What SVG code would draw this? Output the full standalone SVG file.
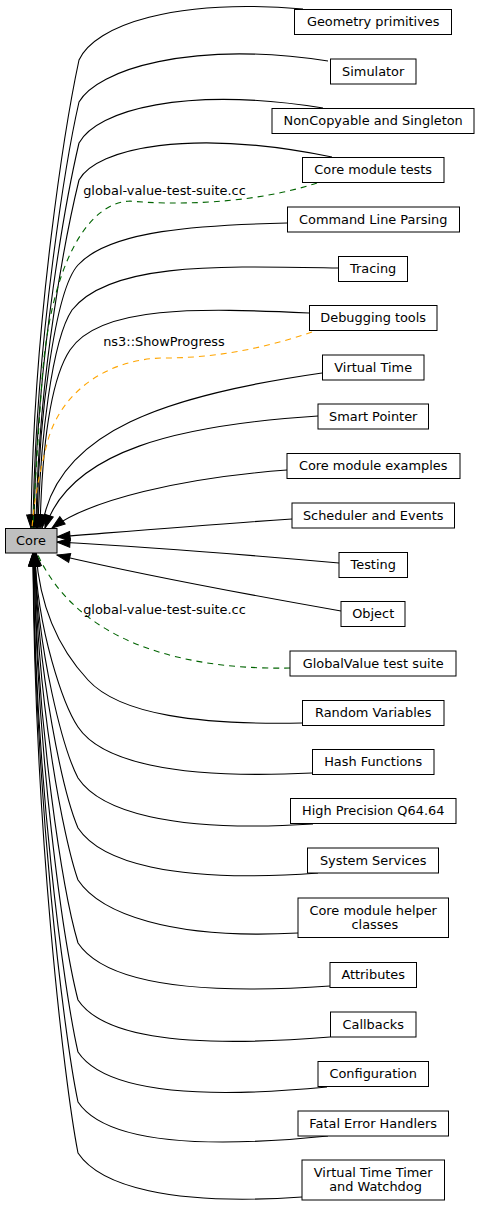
<svg xmlns="http://www.w3.org/2000/svg" width="480" height="1210" viewBox="0 0 480 1210">
<style>
.node rect{fill:#fff;stroke:#000;stroke-width:1}
#core rect{fill:#bfbfbf}
text{font-family:"DejaVu Sans","Noto Sans",sans-serif;font-size:12.9px;fill:#000;text-anchor:middle}
.e{fill:none;stroke:#000;stroke-width:1.1;marker-end:url(#ah)}
.d{fill:none;stroke-width:1.1;stroke-dasharray:6,5}
.g{stroke:#006400}
.o{stroke:#ffa500}
</style>
<defs>
<marker id="ah" markerUnits="userSpaceOnUse" markerWidth="13" markerHeight="9" refX="13" refY="4.5" orient="auto" overflow="visible">
<path d="M0,0 L13,4.5 L0,9 z" fill="#000" stroke="#000" stroke-width="1"/>
</marker>
</defs>
<g id="edges">
<path class="e" d="M303,9 C175,-2 95,25 79,60 C67,116 33,317 31,528"/>
<path class="e" d="M328,61 C190,40 97,70 79,102 C68,150 35,340 33,528"/>
<path class="e" d="M323,108 C185,86 97,110 79,143 C68,190 36,355 34,528"/>
<path class="e" d="M332,157 C190,128 97,148 79,180 C68,225 38,370 36,528"/>
<path class="e" d="M287,223 C200,225 110,230 78,265 C55,290 38,420 37,528"/>
<path class="e" d="M338,268 C220,266 110,262 72,310 C52,340 40,440 38,528"/>
<path class="e" d="M309,313 C200,308 100,305 70,350 C50,380 42,450 40,528"/>
<path class="e" d="M322,373 C170,395 55,430 42,528"/>
<path class="e" d="M318,416 C180,425 70,450 45,528"/>
<path class="e" d="M287,470 C180,478 90,500 52,528"/>
<path class="e" d="M292,519 C200,525 120,532 57,537"/>
<path class="e" d="M339,563 C250,555 130,546 57,542"/>
<path class="e" d="M341,611 C250,595 130,572 57,555"/>
<path class="e" d="M302,723 C200,725 120,715 88,680 C60,650 40,610 36,553"/>
<path class="e" d="M312,773 C170,780 100,760 78,727 C64,706 37,631 35,553"/>
<path class="e" d="M313,824 C170,833 100,811 78,778 C64,751 37,654 35,553"/>
<path class="e" d="M318,873 C170,884 100,861 78,828 C64,795 37,677 35,553"/>
<path class="e" d="M298,933 C170,940 100,913 78,880 C64,841 36,700 35,553"/>
<path class="e" d="M330,986 C170,997 100,976 78,943 C64,896 36,729 34,553"/>
<path class="e" d="M330,1037 C170,1050 100,1033 78,1000 C64,946 36,754 34,553"/>
<path class="e" d="M327,1087 C170,1102 100,1085 78,1052 C64,992 35,778 33,553"/>
<path class="e" d="M328,1136 C170,1152 100,1135 78,1102 C64,1036 35,800 33,553"/>
<path class="e" d="M302,1197 C170,1206 100,1186 78,1153 C64,1081 34,823 33,553"/>
<path class="d g" d="M317,183 C250,205 170,205 130,201 C85,203 50,270 42,380 C38,440 34,500 33,528"/>
<path class="d o" d="M312,332 C260,350 210,358 165,358 C110,358 62,390 48,440 C40,470 34,500 32,528"/>
<path class="d g" d="M290,668 C200,670 80,650 37,553"/>
<text x="164.5" y="194.8">global-value-test-suite.cc</text>
<text x="164" y="345.6">ns3::ShowProgress</text>
<text x="164.5" y="613.8">global-value-test-suite.cc</text>
</g>
<g id="core" class="node"><rect x="5.5" y="528.5" width="51.5" height="24.5"/><text x="31" y="544.5">Core</text></g>
<g id="n1" class="node"><rect x="294.5" y="9.5" width="157" height="25"/><text x="373.2" y="26.3">Geometry primitives</text></g>
<g id="n2" class="node"><rect x="330.5" y="59" width="85.5" height="25"/><text x="373.2" y="75.8">Simulator</text></g>
<g id="n3" class="node"><rect x="272" y="108.5" width="202" height="25"/><text x="373.2" y="125.3">NonCopyable and Singleton</text></g>
<g id="n4" class="node"><rect x="302.5" y="157.5" width="141.5" height="25"/><text x="373.2" y="174.3">Core module tests</text></g>
<g id="n5" class="node"><rect x="287.5" y="207" width="172" height="25"/><text x="373.2" y="223.8">Command Line Parsing</text></g>
<g id="n6" class="node"><rect x="338.5" y="256.5" width="69" height="25"/><text x="373.2" y="273.3">Tracing</text></g>
<g id="n7" class="node"><rect x="309.5" y="305.5" width="127.5" height="25"/><text x="373.2" y="322.3">Debugging tools</text></g>
<g id="n8" class="node"><rect x="322.5" y="355" width="101.5" height="25"/><text x="373.2" y="371.8">Virtual Time</text></g>
<g id="n9" class="node"><rect x="318" y="404" width="110.5" height="25"/><text x="373.2" y="420.8">Smart Pointer</text></g>
<g id="n10" class="node"><rect x="287" y="453.5" width="173" height="25"/><text x="373.2" y="470.3">Core module examples</text></g>
<g id="n11" class="node"><rect x="292" y="503" width="162.5" height="25"/><text x="373.2" y="519.8">Scheduler and Events</text></g>
<g id="n12" class="node"><rect x="339" y="552.5" width="68.5" height="25"/><text x="373.2" y="569.3">Testing</text></g>
<g id="n13" class="node"><rect x="341" y="601.5" width="64" height="25"/><text x="373.2" y="618.3">Object</text></g>
<g id="n14" class="node"><rect x="290" y="651" width="166" height="25"/><text x="373.2" y="667.8">GlobalValue test suite</text></g>
<g id="n15" class="node"><rect x="302.5" y="700.5" width="141.5" height="25"/><text x="373.2" y="717.3">Random Variables</text></g>
<g id="n16" class="node"><rect x="312.5" y="749.5" width="121.5" height="25"/><text x="373.2" y="766.3">Hash Functions</text></g>
<g id="n17" class="node"><rect x="290.5" y="798.5" width="165.5" height="25"/><text x="373.2" y="815.3">High Precision Q64.64</text></g>
<g id="n18" class="node"><rect x="307.5" y="848" width="131" height="25"/><text x="373.2" y="864.8">System Services</text></g>
<g id="n19" class="node"><rect x="298" y="898" width="150.5" height="39.5"/><text x="373.2" y="914.5">Core module helper</text><text x="374.8" y="929">classes</text></g>
<g id="n20" class="node"><rect x="330" y="962.5" width="86.5" height="25"/><text x="373.2" y="979.3">Attributes</text></g>
<g id="n21" class="node"><rect x="330.5" y="1012" width="85.5" height="25"/><text x="373.2" y="1028.8">Callbacks</text></g>
<g id="n22" class="node"><rect x="318" y="1061.5" width="110.5" height="25"/><text x="373.2" y="1078.3">Configuration</text></g>
<g id="n23" class="node"><rect x="298" y="1111" width="150.5" height="25"/><text x="373.2" y="1127.8">Fatal Error Handlers</text></g>
<g id="n24" class="node"><rect x="302" y="1160" width="142.5" height="40"/><text x="373.2" y="1176.5">Virtual Time Timer</text><text x="375.5" y="1191">and Watchdog</text></g>
</svg>
